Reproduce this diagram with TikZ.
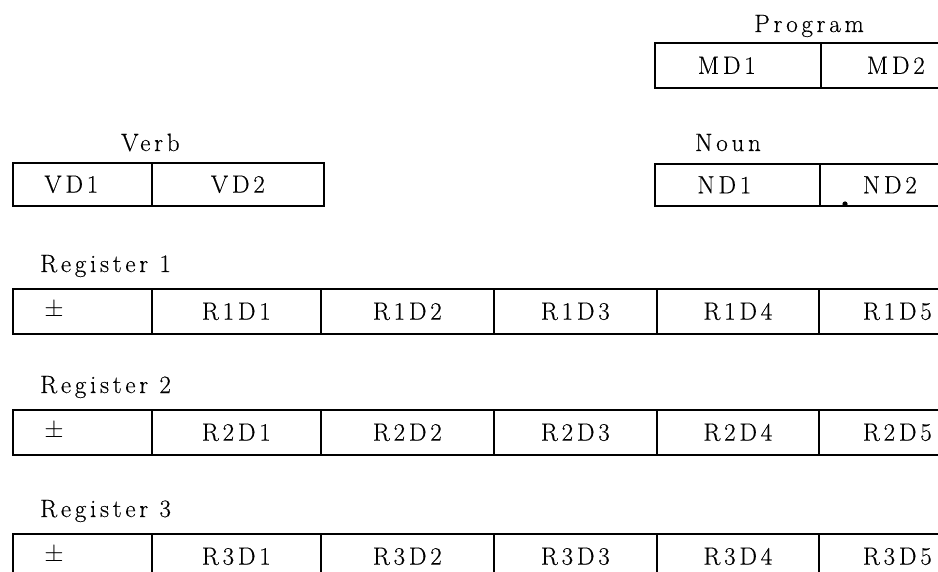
\documentclass[tikz,border=0pt]{standalone}
\usepackage{fontspec}
\setmainfont{Latin Modern Roman}[LetterSpace=15,FakeBold=0.4]
\begin{document}
\begin{tikzpicture}[x=1pt,y=-1pt,
  cell/.style={draw, line width=1.6pt, inner sep=0pt, anchor=north west,
    font=\fontsize{25}{28}\selectfont},
  lbl/.style={inner sep=0pt, anchor=base west, font=\fontsize{25}{28}\selectfont}]
\useasboundingbox (0,0) rectangle (938,572);
\clip (0,0) rectangle (938,572);
% Program
\node[lbl] (prog) at (754,32) {Program};
\node[cell, minimum width=166pt, minimum height=45pt] (md1) at (654,42) {MD1\hspace*{22pt}};
\node[cell, minimum width=150pt, minimum height=45pt] (md2) at (820,42) {MD2};
% Verb
\node[lbl] (verb) at (121,151) {Verb};
\node[cell, minimum width=139pt, minimum height=43pt] (vd1) at (12,162) {VD1\hspace*{22pt}};
\node[cell, minimum width=172pt, minimum height=43pt] (vd2) at (151,162) {VD2};
% Noun
\node[lbl] (noun) at (695,151) {Noun};
\node[cell, minimum width=165pt, minimum height=42pt] (nd1) at (654,163) {ND1\hspace*{26pt}};
\node[cell, minimum width=140pt, minimum height=42pt] (nd2) at (819,163) {ND2};
\fill (845,204) circle (2.6pt);
% Registers
\foreach \r/\y in {1/288,2/409,3/533}{
  \node[lbl] (reg\r) at (40,\y-16) {Register \r};
  \node[cell, minimum width=139pt, minimum height=45pt] (r\r s) at (12,\y) {};
  \node[inner sep=0pt, font=\fontsize{25}{28}\selectfont] (r\r pm) at (54,\y+22.5) {$\pm$};
  \node[cell, minimum width=169pt, minimum height=45pt] (r\r d1) at (151,\y) {R\r D1};
  \node[cell, minimum width=173pt, minimum height=45pt] (r\r d2) at (320,\y) {R\r D2};
  \node[cell, minimum width=163pt, minimum height=45pt] (r\r d3) at (493,\y) {R\r D3};
  \node[cell, minimum width=162pt, minimum height=45pt] (r\r d4) at (656,\y) {R\r D4};
  \node[cell, minimum width=157pt, minimum height=45pt] (r\r d5) at (818,\y) {R\r D5};
}
\end{tikzpicture}
\end{document}
